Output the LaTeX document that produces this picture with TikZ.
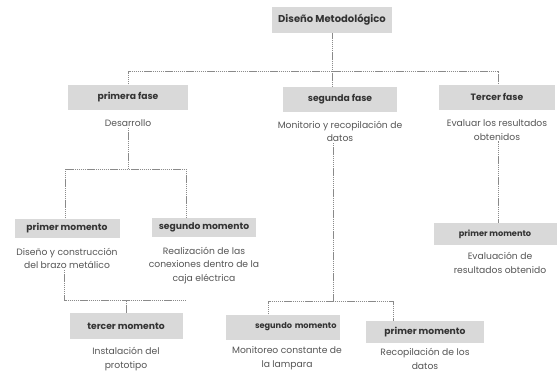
\documentclass[tikz,border=0pt]{standalone}
\usepackage{fontspec}
\setmainfont{Poppins}
\usepackage{xcolor}
\usetikzlibrary{positioning}
\definecolor{boxgray}{HTML}{D9D9D9}
\definecolor{titlegray}{HTML}{333333}
\definecolor{textgray}{HTML}{555555}
\definecolor{linegray}{HTML}{8A8A8A}

\begin{document}
\begin{tikzpicture}[
    x=1pt, y=-1pt,
    node distance=9pt,
    box/.style={rectangle, minimum height=25pt, text centered, fill=boxgray, text=titlegray, font=\bfseries\fontsize{9.2}{11}\selectfont},
    smallbox/.style={box, font=\bfseries\fontsize{8.2}{10}\selectfont},
    txt/.style={align=center, inner sep=1pt, text=textgray, font=\fontsize{9.2}{13.5}\selectfont},
    conn/.style={linegray, line width=0.6pt, dash pattern=on 1.4pt off 0.7pt}
]
    \useasboundingbox (0,0) rectangle (558,376);

    % boxes
    \node (diseno) [box, minimum width=120pt, minimum height=26pt, font=\bfseries\fontsize{10}{12}\selectfont] at (332,20) {Diseño Metodológico};
    \node (primera) [box, minimum width=120pt] at (128,97) {primera fase};
    \node (segunda) [box, minimum width=114pt] at (340,99) {segunda fase};
    \node (tercera) [box, minimum width=116pt] at (497,97) {Tercer fase};
    \node (pmA) [box, minimum width=105pt, minimum height=19pt] at (67,228) {primer momento};
    \node (smA) [box, minimum width=104pt, minimum height=19pt] at (204,227) {segundo momento};
    \node (tmA) [box, minimum width=113pt, minimum height=26pt] at (126,326) {tercer momento};
    \node (smB) [smallbox, minimum width=113pt, text width=107pt, align=right] at (283,327) {segundo momento};
    \node (pmB) [box, minimum width=118pt, minimum height=22pt] at (425,332) {primer momento};
    \node (pmC) [smallbox, minimum width=123pt, minimum height=22pt] at (495,234) {primer momento};

    % texts
    \node (desarrollo) [txt, below=of primera] {Desarrollo};
    \node (monitorio) [txt, below=8pt of segunda] {Monitorio y recopilación de\\datos};
    \node (evaluar) [txt, below=of tercera] {Evaluar los resultados\\obtenidos};
    \node (brazo) [txt, below=of pmA] {Diseño y construcción\\del brazo metálico};
    \node (caja) [txt, below=of smA] {Realización de las\\conexiones dentro de la\\caja eléctrica};
    \node (prototipo) [txt, below=7pt of tmA] {Instalación del\\prototipo};
    \node (lampara) [txt, below=6pt of smB, xshift=4pt] {Monitoreo constante de\\la lampara};
    \node (datos) [txt, below=4pt of pmB] {Recopilación de los\\datos};
    \node (obtenido) [txt, below=6pt of pmC, xshift=5pt] {Evaluación de\\resultados obtenido};

    % junctions
    \coordinate (hubA) at (332,71);
    \coordinate (hubB) at (128,169);
    \coordinate (bL) at (65,169);
    \coordinate (bR) at (186,169);
    \coordinate (cL) at (64,300);
    \coordinate (cR) at (186,300);
    \coordinate (dM) at (333,301);
    \coordinate (dL) at (268,301);
    \coordinate (dR) at (393,301);
    \coordinate (eM) at (498,0);

    % connectors
    \draw [conn] (diseno.south) -- (diseno.south |- segunda.north);
    \draw [conn] (primera.north) -- (primera.north |- hubA) -- (eM |- hubA) -- (eM |- tercera.north);
    \draw [conn] (desarrollo.south) -- (desarrollo.south |- hubB);
    \draw [conn] (bL |- pmA.north) -- (bL) -- (bR) -- (bR |- smA.north);
    \draw [conn] (cL |- brazo.south) -- (cL) -- (cR);
    \draw [conn] (tmA.north) -- (tmA.north |- cL);
    \draw [conn] (dM |- monitorio.south) -- (dM);
    \draw [conn] (dL |- smB.north) -- (dL) -- (dR) -- (dR |- pmB.north);
    \draw [conn] (eM |- evaluar.south) -- (eM |- pmC.north);
\end{tikzpicture}
\end{document}
